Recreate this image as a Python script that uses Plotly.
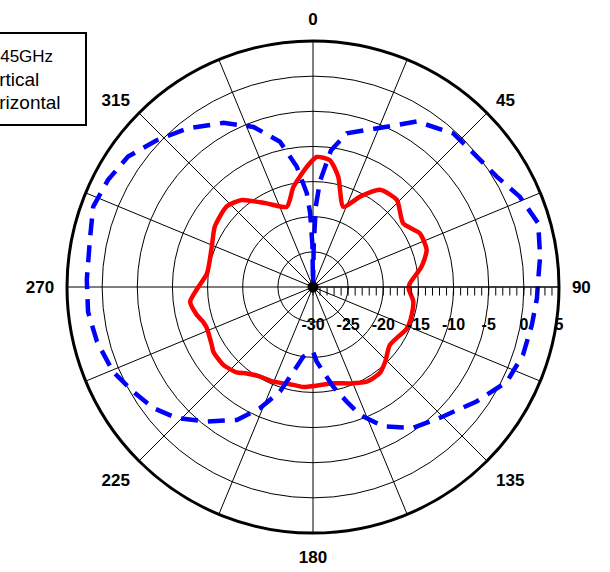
import plotly.graph_objects as go

# ---------------- data ----------------
vert_theta = [0, 1.0, 2.0, 3.8, 7.5, 12.4, 24.7, 32.1, 42.4, 51.5, 59.0, 66.4, 74.2, 82.4,
              89.1, 92.9, 99.9, 107.9, 116.1, 125.0, 134.9, 144.6, 153.3, 159.8, 163.6,
              168.5, 173.0, 177.2, 180.0, 184.0, 187.9, 193.1, 197.5, 203.6, 209.8, 218.3,
              226.1, 232.8, 239.8, 247.0, 255.8, 263.7, 271.8, 282.7, 290.1, 297.6, 305.2,
              313.2, 321.5, 331.4, 339.6, 347.2, 352.3, 356.2, 357.8, 359.2, 360]
vert_r = [-30, -24.0, -18.5, -14.9, -10.4, -7.6, -4.9, -2.2, -0.4, -0.2, 0.5, 2.1, 3.3, 2.6,
          2.0, 1.9, 1.6, 1.4, 0.7, -1.6, -3.9, -5.4, -7.8, -10.6, -13.0,
          -15.5, -17.8, -19.4, -20.8, -20.5, -20.0, -17.6, -14.4, -11.2, -8.2, -5.6,
          -3.1, -1.5, -0.4, 0.9, 1.7, 2.2, 2.2, 2.5, 3.3, 2.9, 2.2,
          0.5, -1.2, -3.4, -5.7, -8.8, -12.7, -16.6, -19.5, -24.0, -30]

horiz_theta = [1.6, 7.6, 12.9, 20.7, 27.5, 34.6, 43.9, 54.8, 63.3, 72.0, 79.4, 87.8, 90.8,
               98.0, 105.8, 113.8, 127.0, 136.1, 142.2, 150.4, 159.0, 168.1, 185.6, 191.4,
               202.7, 210.6, 217.5, 221.8, 229.0, 237.0, 240.2, 248.8, 252.4, 256.5, 263.2,
               269.0, 277.3, 291.7, 301.6, 312.9, 320.7, 331.0, 341.9, 348.9, 357.0, 361.6]
horiz_r = [-11.5, -11.8, -13.9, -17.8, -15.5, -13.2, -12.8, -14.3, -13.0, -13.0, -14.3, -16.2, -16.4,
           -15.6, -15.4, -15.4, -16.3, -15.2, -14.5, -14.5, -15.3, -16.0, -15.7, -15.8,
           -15.4, -15.2, -14.5, -13.7, -13.1, -13.1, -13.4, -13.8, -13.6, -13.0, -12.4,
           -13.5, -14.8, -14.5, -13.6, -13.2, -14.0, -16.4, -18.0, -15.5, -12.9, -11.5]

radial_range = [-30, 5]
radial_major = [-30, -25, -20, -15, -10, -5, 0, 5]
radial_minor = list(range(-30, 6))
angle_ticks = [0, 22.5, 45, 67.5, 90, 112.5, 135, 157.5, 180, 202.5, 225, 247.5,
               270, 292.5, 315, 337.5]
angle_labels = ["0", "", "45", "", "90", "", "135", "", "180", "", "225", "",
                "270", "", "315", ""]
legend_title = "2.45GHz"
series_names = ["Vertical", "Horizontal"]

# ---------------- layout geometry ----------------
W, H = 610, 572
ML, MR, MT, MB = 67, 51, 41, 39
PW, PH = W - ML - MR, H - MT - MB


def px_x(px):
    return (px - ML) / PW


def px_y(py):
    return 1 - (py - MT) / PH


FONT = "Liberation Sans, Arial, sans-serif"

fig = go.Figure()

fig.add_trace(go.Scatterpolar(
    r=horiz_r, theta=horiz_theta, mode="lines", name=series_names[1],
    line=dict(color="#ff0000", width=4.5, shape="spline", smoothing=0.6),
    subplot="polar", showlegend=False))

fig.add_trace(go.Scatterpolar(
    r=vert_r, theta=vert_theta, mode="lines", name=series_names[0],
    line=dict(color="#0000ff", width=4.5, dash="17px,10px"),
    subplot="polar", showlegend=False))

# centre hub (drawn on the overlay subplot, which also carries the minor ticks)
fig.add_trace(go.Scatterpolar(
    r=[radial_range[0]], theta=[0], mode="markers",
    marker=dict(color="black", size=11), subplot="polar2",
    showlegend=False, hoverinfo="skip"))

fig.update_layout(
    width=W, height=H,
    margin=dict(l=ML, r=MR, t=MT, b=MB, autoexpand=False),
    paper_bgcolor="white",
    font=dict(family=FONT, color="black"),
    polar=dict(
        domain=dict(x=[0, 1], y=[0, 1]),
        bgcolor="white",
        angularaxis=dict(
            rotation=90, direction="clockwise",
            tickmode="array", tickvals=angle_ticks, ticktext=angle_labels,
            showgrid=True, gridcolor="black", gridwidth=1,
            showline=True, linecolor="black", linewidth=3,
            ticks="outside", ticklen=8, tickcolor="rgba(0,0,0,0)",
            tickfont=dict(family=FONT, size=17, weight="bold", color="black"),
        ),
        radialaxis=dict(
            range=radial_range, angle=0, side="clockwise",
            tickmode="array", tickvals=radial_major,
            ticktext=["<br>" + str(v) for v in radial_major],
            showgrid=True, gridcolor="black", gridwidth=1,
            showline=True, linecolor="black", linewidth=1,
            ticks="outside", ticklen=2, tickcolor="black",
            tickfont=dict(family=FONT, size=16, weight="bold", color="black"),
        ),
    ),
    polar2=dict(
        domain=dict(x=[0, 1], y=[0, 1]),
        bgcolor="rgba(0,0,0,0)",
        angularaxis=dict(visible=False, rotation=90, direction="clockwise"),
        radialaxis=dict(
            range=radial_range, angle=0, side="clockwise",
            tickmode="array", tickvals=radial_minor,
            showticklabels=False, showgrid=False, showline=False,
            ticks="outside", ticklen=8, tickcolor="black", tickwidth=1,
        ),
    ),
    shapes=[dict(type="rect", xref="paper", yref="paper",
                 x0=px_x(-20), x1=px_x(86), y0=px_y(125), y1=px_y(33),
                 line=dict(color="black", width=2), fillcolor="white", layer="above")],
    annotations=[
        dict(xref="paper", yref="paper", x=px_x(-16), y=px_y(57),
             xanchor="left", yanchor="middle", showarrow=False, align="left",
             text=legend_title, font=dict(family=FONT, size=17, color="black")),
        dict(xref="paper", yref="paper", x=px_x(-25), y=px_y(80),
             xanchor="left", yanchor="middle", showarrow=False, align="left",
             text=series_names[0], font=dict(family=FONT, size=19, color="black")),
        dict(xref="paper", yref="paper", x=px_x(-27), y=px_y(102),
             xanchor="left", yanchor="middle", showarrow=False, align="left",
             text=series_names[1], font=dict(family=FONT, size=19, color="black")),
    ],
)

fig.write_html("out.html", config={"displayModeBar": False},
               post_script="document.body.style.margin='0';")
